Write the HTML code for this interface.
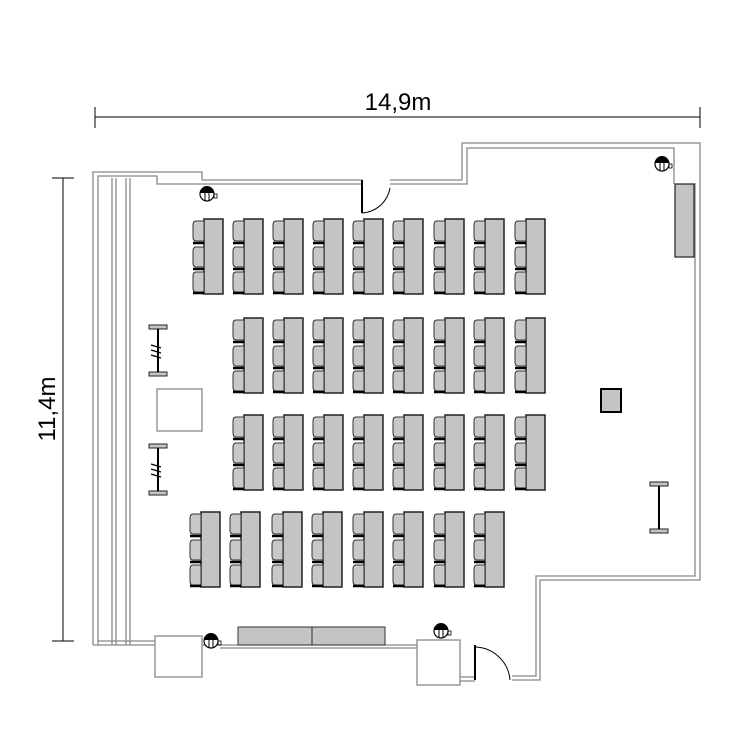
<!DOCTYPE html>
<html><head><meta charset="utf-8"><style>
html,body{margin:0;padding:0;background:#fff;}
svg{display:block;}
text{font-family:"Liberation Sans",sans-serif;}
</style></head><body>
<svg width="750" height="740" viewBox="0 0 750 740" xmlns="http://www.w3.org/2000/svg">
<defs>
<g id="d">
  <rect x="12" y="0" width="19" height="75" fill="#c4c4c4" stroke="#222" stroke-width="1.5"/>
  <g fill="#c8c8c8" stroke="#333" stroke-width="1">
    <path d="M12,2 h-8 q-3,0 -3,4 v12 q0,4 3,4 h8 z"/>
    <path d="M12,28 h-8 q-3,0 -3,4 v12 q0,4 3,4 h8 z"/>
    <path d="M12,53 h-8 q-3,0 -3,4 v12 q0,4 3,4 h8 z"/>
  </g>
  <g stroke="#000" stroke-width="2.5">
    <line x1="1" y1="24" x2="12" y2="24"/>
    <line x1="1" y1="50" x2="12" y2="50"/>
    <line x1="1" y1="74" x2="12" y2="74"/>
  </g>
</g>
<g id="cam">
  <circle cx="0" cy="0" r="7" fill="#fff" stroke="#000" stroke-width="1.2"/>
  <path d="M-7,-1 A7,7 0 0 1 7,-1 Z" fill="#000"/>
  <line x1="-2" y1="-3" x2="-2" y2="7" stroke="#000"/>
  <line x1="2" y1="-3" x2="2" y2="7" stroke="#000"/>
  <rect x="7" y="0" width="3" height="4" fill="none" stroke="#000" stroke-width="0.8"/>
</g>
<g id="ib">
  <rect x="-9" y="0" width="18" height="4" fill="#c4c4c4" stroke="#222"/>
  <rect x="-9" y="47" width="18" height="4" fill="#c4c4c4" stroke="#222"/>
  <line x1="0" y1="4" x2="0" y2="47" stroke="#000" stroke-width="2"/>
</g>
</defs>

<line x1="95" y1="117" x2="700" y2="117" stroke="#000" stroke-width="1"/>
<line x1="95" y1="107" x2="95" y2="128" stroke="#000"/>
<line x1="700" y1="107" x2="700" y2="128" stroke="#000"/>
<text x="398" y="110" font-size="24" text-anchor="middle">14,9m</text>
<line x1="63" y1="178" x2="63" y2="641" stroke="#000"/>
<line x1="52" y1="178" x2="74" y2="178" stroke="#000"/>
<line x1="52" y1="641" x2="74" y2="641" stroke="#000"/>
<text x="0" y="0" font-size="24" text-anchor="middle" transform="translate(55,409) rotate(-90)">11,4m</text>

<g fill="none" stroke="#888" stroke-width="1.3">
  <path d="M93,645 V172 H202 V180 H362"/>
  <path d="M98,645 V176 H157 V184 H362"/>
  <path d="M112,645 V178 M116,645 V178 M126,645 V178 M130,645 V178"/>
  <path d="M390,180 H462 V143 H700 V580 H540 V680 H512"/>
  <path d="M390,184 H467 V148 H674 V184"/>
  <path d="M695,183 V576 H536 V676 H512"/>
  <path d="M93,645 H155 M98,641 H155"/>
  <path d="M202,645 H417 M220,648 H417"/>
  <path d="M460,677 H475 M460,681 H475"/>
  <rect x="155" y="636" width="47" height="41" fill="#fff"/>
  <rect x="417" y="640" width="43" height="45" fill="#fff"/>
  <rect x="157" y="389" width="45" height="42" fill="#fff"/>
</g>
<line x1="362" y1="180" x2="362" y2="213" stroke="#000" stroke-width="2"/>
<path d="M362,213 A30,30 0 0 0 390,188" fill="none" stroke="#000" stroke-width="1"/>
<line x1="475" y1="645" x2="475" y2="680" stroke="#000" stroke-width="2"/>
<path d="M475,647 A36,36 0 0 1 510,680" fill="none" stroke="#000" stroke-width="1"/>

<rect x="675" y="184" width="19" height="73" fill="#c4c4c4" stroke="#222" stroke-width="1.2"/>
<rect x="238" y="627" width="74" height="18" fill="#c4c4c4" stroke="#333"/>
<rect x="312" y="627" width="73" height="18" fill="#c4c4c4" stroke="#333"/>
<rect x="601" y="389" width="20" height="23" fill="#c4c4c4" stroke="#000" stroke-width="2"/>

<use href="#ib" x="158" y="325"/>
<use href="#ib" x="158" y="444"/>
<use href="#ib" x="659" y="482"/>
<g stroke="#000" stroke-width="1.2">
  <path d="M151,345 l10,3 M151,350 l10,3 M151,355 l10,3"/>
  <path d="M151,464 l10,3 M151,469 l10,3 M151,474 l10,3"/>
</g>

<use href="#cam" x="207" y="194"/>
<use href="#cam" x="662" y="164"/>
<use href="#cam" x="211" y="641"/>
<use href="#cam" x="441" y="631"/>

<use href="#d" x="192" y="219"/><use href="#d" x="232" y="219"/><use href="#d" x="272" y="219"/>
<use href="#d" x="312" y="219"/><use href="#d" x="352" y="219"/><use href="#d" x="392" y="219"/>
<use href="#d" x="433" y="219"/><use href="#d" x="473" y="219"/><use href="#d" x="514" y="219"/>
<use href="#d" x="232" y="318"/><use href="#d" x="272" y="318"/><use href="#d" x="312" y="318"/>
<use href="#d" x="352" y="318"/><use href="#d" x="392" y="318"/><use href="#d" x="433" y="318"/>
<use href="#d" x="473" y="318"/><use href="#d" x="514" y="318"/>
<use href="#d" x="232" y="415"/><use href="#d" x="272" y="415"/><use href="#d" x="312" y="415"/>
<use href="#d" x="352" y="415"/><use href="#d" x="392" y="415"/><use href="#d" x="433" y="415"/>
<use href="#d" x="473" y="415"/><use href="#d" x="514" y="415"/>
<use href="#d" x="189" y="512"/><use href="#d" x="229" y="512"/><use href="#d" x="271" y="512"/>
<use href="#d" x="311" y="512"/><use href="#d" x="352" y="512"/><use href="#d" x="392" y="512"/>
<use href="#d" x="433" y="512"/><use href="#d" x="473" y="512"/>
</svg>
</body></html>
